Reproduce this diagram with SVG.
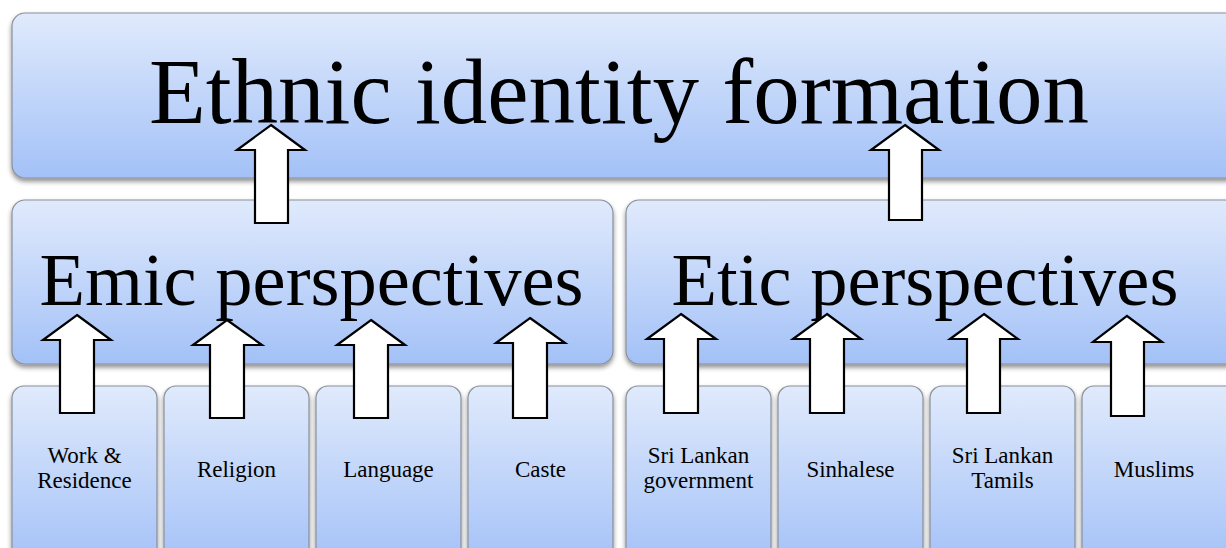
<svg xmlns="http://www.w3.org/2000/svg" width="1226" height="548" viewBox="0 0 1226 548">
  <defs>
    <linearGradient id="boxFill" x1="0" y1="0" x2="0" y2="1">
      <stop offset="0" stop-color="#e0eafc"/>
      <stop offset="1" stop-color="#a3c1f7"/>
    </linearGradient>
    <filter id="shadow" x="-5%" y="-10%" width="110%" height="125%">
      <feGaussianBlur in="SourceAlpha" stdDeviation="2.5"/>
      <feOffset dx="0" dy="3" result="b"/>
      <feComponentTransfer><feFuncA type="linear" slope="0.45"/></feComponentTransfer>
      <feMerge><feMergeNode/><feMergeNode in="SourceGraphic"/></feMerge>
    </filter>
  </defs>
  <style>
    .box { fill: url(#boxFill); stroke: #8a8f99; stroke-width: 1.2; filter: url(#shadow); }
    .arrow { fill: #ffffff; stroke: #000000; stroke-width: 2.2; stroke-linejoin: miter; }
    .title { font-family: "Liberation Serif", "Times New Roman", serif; fill: #000; text-anchor: middle; }
    .big { font-size: 93px; }
    .mid { font-size: 74.5px; }
    .small { font-size: 23px; }
  </style>

  <rect width="1226" height="548" fill="#ffffff"/>

  <!-- top level -->
  <g id="node-ethnic">
    <rect class="box" x="12" y="13" width="1226" height="165" rx="13"/>
    <text class="title big" x="619" y="123">Ethnic identity formation</text>
  </g>

  <!-- middle level -->
  <g id="node-emic">
    <rect class="box" x="12" y="200" width="601" height="164" rx="13"/>
    <text class="title mid" x="311.5" y="305">Emic perspectives</text>
  </g>
  <g id="node-etic">
    <rect class="box" x="626" y="200" width="612" height="164" rx="13"/>
    <text class="title mid" x="925" y="305">Etic perspectives</text>
  </g>

  <!-- bottom level -->
  <g id="node-work">
    <rect class="box" x="12" y="386" width="145" height="180" rx="12"/>
    <text class="title small" x="84.5" y="463">Work &amp;</text>
    <text class="title small" x="84.5" y="488">Residence</text>
  </g>
  <g id="node-religion">
    <rect class="box" x="164" y="386" width="145" height="180" rx="12"/>
    <text class="title small" x="236.5" y="477">Religion</text>
  </g>
  <g id="node-language">
    <rect class="box" x="316" y="386" width="145" height="180" rx="12"/>
    <text class="title small" x="388.5" y="477">Language</text>
  </g>
  <g id="node-caste">
    <rect class="box" x="468" y="386" width="145" height="180" rx="12"/>
    <text class="title small" x="540.5" y="477">Caste</text>
  </g>
  <g id="node-government">
    <rect class="box" x="626" y="386" width="145" height="180" rx="12"/>
    <text class="title small" x="698.5" y="463">Sri Lankan</text>
    <text class="title small" x="698.5" y="488">government</text>
  </g>
  <g id="node-sinhalese">
    <rect class="box" x="778" y="386" width="145" height="180" rx="12"/>
    <text class="title small" x="850.5" y="477">Sinhalese</text>
  </g>
  <g id="node-tamils">
    <rect class="box" x="930" y="386" width="145" height="180" rx="12"/>
    <text class="title small" x="1002.5" y="463">Sri Lankan</text>
    <text class="title small" x="1002.5" y="488">Tamils</text>
  </g>
  <g id="node-muslims">
    <rect class="box" x="1082" y="386" width="156" height="180" rx="12"/>
    <text class="title small" x="1154" y="477">Muslims</text>
  </g>

  <!-- block arrows -->
  <g id="connectors">
    <!-- emic / etic to top -->
    <polygon class="arrow" points="271,125 305,150 288,150 288,223 255,223 255,150 237,150"/>
    <polygon class="arrow" points="905,125 939,150 922,150 922,220 889,220 889,150 871,150"/>
    <!-- emic factors -->
    <polygon class="arrow" points="77,315 111,340 94,340 94,413 60,413 60,340 43,340"/>
    <polygon class="arrow" points="227,320 262,345 244,345 244,418 210,418 210,345 193,345"/>
    <polygon class="arrow" points="371,320 405,345 388,345 388,418 354,418 354,345 337,345"/>
    <polygon class="arrow" points="530,318 565,343 547,343 547,418 513,418 513,343 496,343"/>
    <!-- etic factors -->
    <polygon class="arrow" points="681,314 716,339 698,339 698,413 664,413 664,339 647,339"/>
    <polygon class="arrow" points="827,314 861,339 844,339 844,413 810,413 810,339 793,339"/>
    <polygon class="arrow" points="984,314 1018,339 1000,339 1000,413 967,413 967,339 950,339"/>
    <polygon class="arrow" points="1127,316 1162,342 1144,342 1144,416 1111,416 1111,342 1093,342"/>
  </g>
</svg>
